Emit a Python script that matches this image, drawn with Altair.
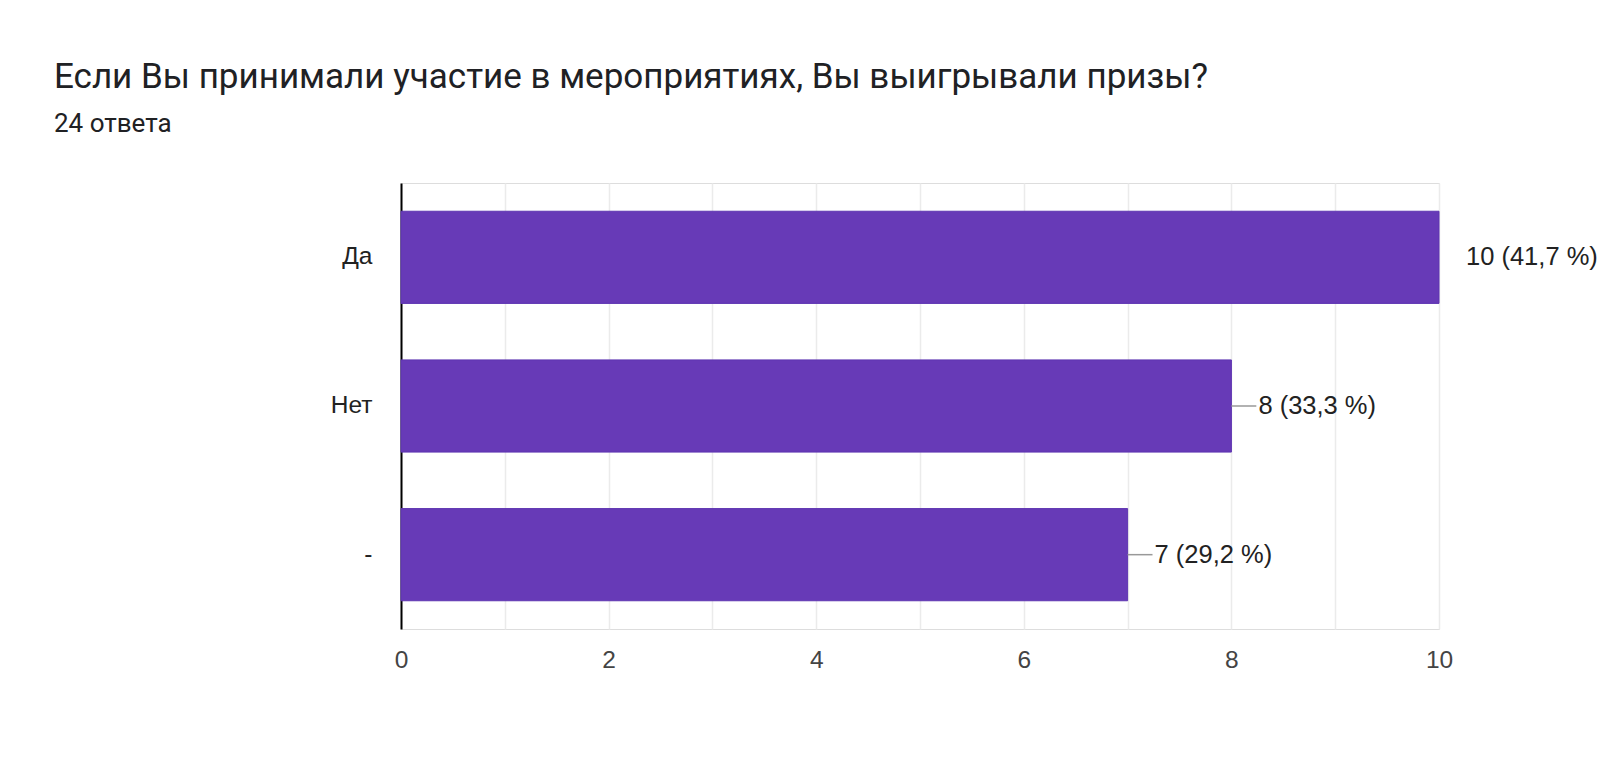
import altair as alt
import pandas as pd

answers = ["Да", "Нет", "-"]
counts = [10, 8, 7]
labels = ["10 (41,7 %)", "8 (33,3 %)", "7 (29,2 %)"]
tick_values = [0, 1, 2, 3, 4, 5, 6, 7, 8, 9, 10]

title_text = "Если Вы принимали участие в мероприятиях, Вы выигрывали призы?"
subtitle_text = "24 ответа"

df = pd.DataFrame({"answer": answers, "count": counts, "label": labels})

y_enc = alt.Y(
    "answer:N",
    sort=None,
    title=None,
    scale=alt.Scale(paddingInner=0.38, paddingOuter=0.19),
    axis=alt.Axis(
        labelFont="Liberation Sans",
        labelFontSize=24.5,
        labelColor="#222222",
        labelPadding=29,
        ticks=False,
        tickSize=0,
        domainColor="#000000",
        domainWidth=2,
        grid=False,
    ),
)

x_enc = alt.X(
    "count:Q",
    title=None,
    scale=alt.Scale(domain=[0, 10], nice=False),
    axis=alt.Axis(
        values=tick_values,
        format="d",
        labelExpr="datum.value % 2 == 0 ? datum.label : ''",
        labelFlush=False,
        labelFont="Liberation Sans",
        labelFontSize=24.5,
        labelColor="#444444",
        labelPadding=19,
        ticks=False,
        tickSize=0,
        domain=False,
        grid=True,
        gridColor="#ebebeb",
        gridWidth=1.5,
    ),
)

bars = alt.Chart(df).mark_bar(color="#673ab7", stroke="#5e35b1", strokeWidth=1).encode(
    x=x_enc, y=y_enc
)

leaders = (
    alt.Chart(df)
    .transform_filter("datum.count < 10")
    .transform_calculate(end="datum.count + 0.24")
    .mark_rule(color="#999999", strokeWidth=1.5)
    .encode(x="count:Q", x2="end:Q", y=alt.Y("answer:N", sort=None))
)

texts = (
    alt.Chart(df)
    .mark_text(
        align="left",
        baseline="middle",
        dx=27,
        font="Liberation Sans",
        fontSize=25.5,
        color="#222222",
    )
    .encode(x="count:Q", y=alt.Y("answer:N", sort=None), text="label:N")
)

chart = (
    alt.layer(bars, leaders, texts)
    .properties(
        width=1038,
        height=446,
        autosize=alt.AutoSizeParams(type="none"),
        padding={"left": 401, "top": 183, "right": 161, "bottom": 132},
        title=alt.TitleParams(
            text=title_text,
            subtitle=subtitle_text,
            anchor="start",
            frame="group",
            dx=-347,
            offset=46,
            font="Roboto",
            fontSize=35,
            fontWeight="normal",
            color="#202124",
            subtitleFont="Roboto",
            subtitleFontSize=26,
            subtitleColor="#202124",
            subtitlePadding=16,
        ),
    )
    .configure_view(stroke="#ebebeb", strokeWidth=1.5)
    .configure(background="white")
)

chart.save("out.html", embed_options={"renderer": "svg", "actions": False})
